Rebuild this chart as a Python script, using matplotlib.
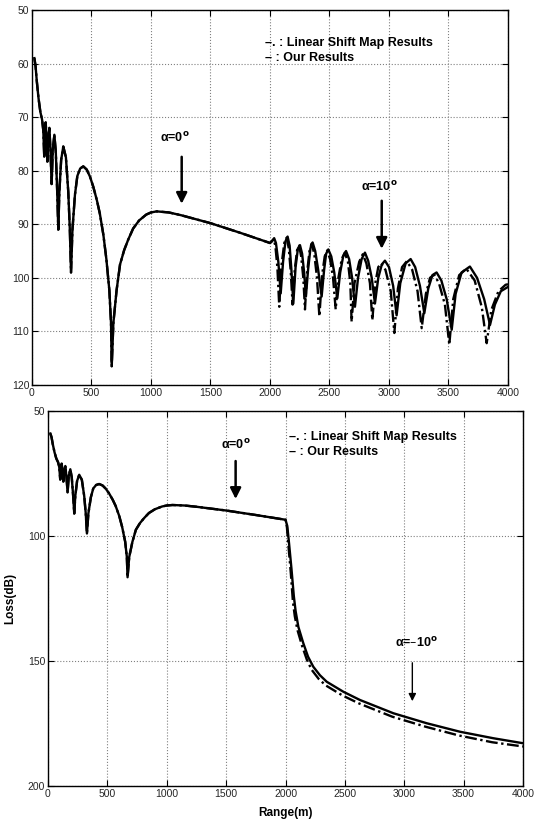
import numpy as np
import matplotlib
matplotlib.use("Agg")
import matplotlib.pyplot as plt

plt.rcParams['font.family'] = ['Liberation Sans', 'DejaVu Sans']
plt.rcParams['mathtext.default'] = 'regular'

# Common part (alpha = 0 deg) from 0 to 2000 m
range_near = [20, 30, 40, 55, 70, 85, 95, 103, 109, 115, 122, 129, 137, 146, 155, 165, 175, 188,
              200, 212, 221, 230, 245, 263, 285, 305, 318, 328, 340, 361, 381, 405, 431, 460,
              487, 515, 545, 570, 600, 625, 650, 664, 670, 684, 711, 740, 775, 810, 850, 900,
              960, 1000, 1048, 1150, 1250, 1500, 1750, 2000]
loss_near = [59, 60.5, 63.2, 66.5, 69, 70.5, 72.5, 77.4, 73.5, 71, 74, 78.3, 74, 72, 76, 82.5, 76, 73.3,
             76.5, 84, 91, 84, 78, 75.5, 77.5, 84, 91, 99, 91, 84.5, 81, 79.6, 79.2, 79.8,
             81.1, 83, 85.5, 88, 92, 96.5, 102.3, 108.4, 116.5, 108.4, 102.3, 97.5, 94.8, 92.8, 90.8, 89.3,
             88.2, 87.8, 87.6, 87.8, 88.3, 89.8, 91.6, 93.5]

# alpha = 10 deg, 2000 - 4000 m
range_up_ours = [2015, 2035, 2050, 2070, 2090, 2110, 2130, 2148, 2165, 2180, 2196, 2215, 2235, 2252,
                 2270, 2287, 2302, 2320, 2340, 2358, 2380, 2405, 2434, 2455, 2472, 2490, 2515, 2540,
                 2566, 2590, 2615, 2639, 2665, 2690, 2714, 2740, 2770, 2798, 2825, 2855, 2882, 2910,
                 2940, 2966, 3000, 3035, 3064, 3095, 3140, 3182, 3220, 3260, 3297, 3330, 3365, 3400,
                 3440, 3485, 3527, 3560, 3610, 3680, 3740, 3800, 3849, 3890, 3940, 4000]
loss_up_ours = [93.2, 92.6, 93.5, 97, 102.9, 97, 93.2, 92.3, 94, 98.5, 104.8, 98, 94.5, 93.9,
                95.5, 99, 103.5, 98.5, 94.5, 93.4, 95, 98.5, 103.5, 98.5, 95.5, 94.7, 96, 99,
                103.8, 99, 96, 95, 96.5, 100, 105.4, 100, 96.5, 95.3, 96.8, 100, 104.8, 100,
                97.5, 96.8, 98, 101.5, 107, 101, 97.3, 96.5, 98, 101.5, 106.6, 102, 99.5, 99.0,
                100.5, 104, 109.7, 103, 99, 97.9, 100, 104, 108.8, 105, 102.5, 101.7]
range_up_lsm = [2015, 2030, 2045, 2062, 2078, 2095, 2120, 2140, 2158, 2175, 2190, 2208, 2228, 2245,
                2262, 2280, 2294, 2312, 2332, 2350, 2372, 2395, 2415, 2438, 2460, 2480, 2505, 2530,
                2552, 2575, 2603, 2628, 2655, 2675, 2686, 2710, 2750, 2780, 2810, 2840, 2860, 2885,
                2910, 2935, 2970, 3015, 3045, 3075, 3110, 3150, 3195, 3240, 3275, 3310, 3345, 3380,
                3420, 3470, 3507, 3540, 3590, 3650, 3720, 3780, 3821, 3860, 3920, 3980, 4000]
loss_up_lsm = [93.2, 92.8, 94, 98, 105.4, 98, 93.5, 92.5, 94.5, 99, 105, 98.5, 94.8, 94,
               96, 100, 105.9, 99, 95, 93.6, 95.5, 100, 107.2, 99.5, 96, 94.9, 96.5, 100,
               105.9, 100, 96.5, 95.3, 97, 101, 108.2, 101, 97, 95.6, 97.3, 101, 107.9, 101,
               98, 97.3, 98.5, 102.5, 110.3, 102, 98, 96.9, 98.5, 102.5, 109.4, 103, 100, 99.4,
               101, 105, 112.5, 104, 99.5, 98.3, 100.5, 105.5, 112.2, 106, 102.5, 101.3, 101.2]

# alpha = -10 deg, 2000 - 4000 m
range_down_ours = [2015, 2030, 2050, 2070, 2085, 2108, 2150, 2190, 2234, 2290, 2347, 2487, 2627,
                   2908, 3189, 3469, 3750, 4000]
loss_down_ours = [96, 103, 113, 124, 130, 136.3, 142.9, 148.3, 152.3, 155.7, 158.3, 162.3, 165.6,
                  170.9, 174.9, 178.3, 180.9, 182.9]
range_down_lsm = [2012, 2025, 2045, 2062, 2078, 2100, 2140, 2180, 2220, 2280, 2340, 2480, 2620,
                  2900, 3180, 3460, 3740, 4000]
loss_down_lsm = [96.5, 104, 115, 126, 132, 137.5, 144, 149.5, 153.5, 157.2, 159.8, 163.8, 167,
                 172.3, 176.3, 179.8, 182.5, 184.2]

xticks = [0, 500, 1000, 1500, 2000, 2500, 3000, 3500, 4000]
top_yticks = [50, 60, 70, 80, 90, 100, 110, 120]
bottom_yticks = [50, 100, 150, 200]

fig = plt.figure(figsize=(5.35, 8.27), dpi=100)
ax1 = fig.add_axes([0.0598, 0.5345, 0.8897, 0.4535])
ax2 = fig.add_axes([0.0897, 0.0496, 0.8879, 0.4534])

lsm_style = dict(color='k', lw=1.7, linestyle=(0, (5, 1.5, 1, 1.5)))
ours_style = dict(color='k', lw=1.7, linestyle='-')

ax1.plot(range_near + range_up_lsm, loss_near + loss_up_lsm, **lsm_style)
ax1.plot(range_near + range_up_ours, loss_near + loss_up_ours, **ours_style)
ax2.plot(range_near + range_down_lsm, loss_near + loss_down_lsm, **lsm_style)
ax2.plot(range_near + range_down_ours, loss_near + loss_down_ours, **ours_style)

for ax, yt in [(ax1, top_yticks), (ax2, bottom_yticks)]:
    ax.set_xlim(0, 4000)
    ax.set_ylim(yt[-1], yt[0])
    ax.set_xticks(xticks)
    ax.set_yticks(yt)
    ax.grid(True, linestyle=':', color='0.5', lw=0.8)
    ax.tick_params(direction='in', top=True, right=True, length=4, width=0.8,
                   labelsize=7.5, pad=2, labelcolor='0.15')
    for s in ax.spines.values():
        s.set_linewidth(1.0)

txt = dict(fontsize=9, fontweight='bold', ha='left', va='center')
ax1.text(1960, 56.2, "\u2013. : Linear Shift Map Results", **txt)
ax1.text(1960, 59.0, "\u2013 : Our Results", **txt)
ax2.text(2030, 60.4, "\u2013. : Linear Shift Map Results", **txt)
ax2.text(2030, 66.4, "\u2013 : Our Results", **txt)

lab = dict(fontsize=9, fontweight='bold', ha='center', va='center')
big_arrow = dict(arrowstyle='-|>', lw=1.8, color='k', mutation_scale=16)
ax1.text(1200, 73.8, "$\\alpha$=0$^\\mathbf{o}$", **lab)
ax1.annotate("", xy=(1258, 86.7), xytext=(1258, 76.9), arrowprops=big_arrow)
ax1.text(2920, 83.0, "$\\alpha$=10$^\\mathbf{o}$", **lab)
ax1.annotate("", xy=(2939, 95.1), xytext=(2939, 85.1), arrowprops=big_arrow)

ax2.text(1585, 63.6, "$\\alpha$=0$^\\mathbf{o}$", **lab)
ax2.annotate("", xy=(1580, 86.3), xytext=(1580, 68.9), arrowprops=big_arrow)
ax2.text(3100, 142.6, "$\\alpha$=\u201310$^\\mathbf{o}$", **lab)
ax2.annotate("", xy=(3068, 167.2), xytext=(3068, 149.6),
             arrowprops=dict(arrowstyle='-|>', lw=1.0, color='k', mutation_scale=11))

ax2.set_xlabel("Range(m)", fontsize=8.5, fontweight='bold', labelpad=6)
ax2.set_ylabel("Loss(dB)", fontsize=8.5, fontweight='bold', labelpad=8)

fig.savefig("out.png", dpi=100)
